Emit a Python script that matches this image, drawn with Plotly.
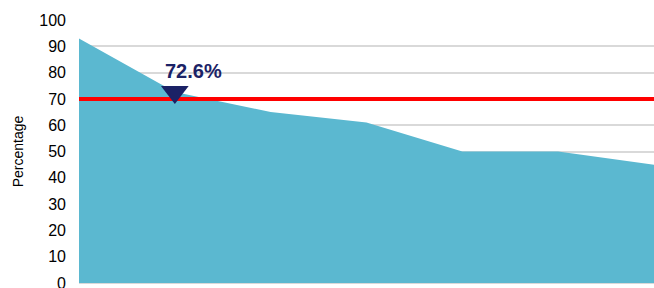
import plotly.graph_objects as go

x_idx = [0, 1, 2, 3, 4, 5, 6]
values = [93, 72.6, 65, 61, 50, 50, 45]
target = 70
marker_idx = 1
marker_label = "72.6%"
y_ticks = [0, 10, 20, 30, 40, 50, 60, 70, 80, 90, 100]

fig = go.Figure()
fig.add_trace(go.Scatter(
    x=x_idx, y=values, mode="lines", fill="tozeroy",
    fillcolor="#5BB8D0", line=dict(width=0, color="#5BB8D0"),
    hoverinfo="skip", showlegend=False))
fig.add_trace(go.Scatter(
    x=[x_idx[0], x_idx[-1]], y=[target, target], mode="lines",
    line=dict(color="#FF0000", width=4), showlegend=False))
fig.add_trace(go.Scatter(
    x=[x_idx[marker_idx]], y=[values[marker_idx]], mode="markers",
    marker=dict(symbol="triangle-down", size=24, color="#1B2266"),
    showlegend=False))
fig.add_annotation(
    x=x_idx[marker_idx], y=values[marker_idx], text=marker_label,
    showarrow=False, yshift=21, xanchor="left", xshift=-12,
    font=dict(family="Liberation Sans, Arial", size=20, color="#1B2266", weight="bold"))

fig.update_layout(
    width=654, height=288,
    margin=dict(l=79, r=0, t=20, b=5),
    paper_bgcolor="white", plot_bgcolor="white",
    font=dict(family="Liberation Sans, Arial", color="#000000"),
    xaxis=dict(range=[0, 6], showticklabels=False, showgrid=False,
               zeroline=False, showline=True, linecolor="#D9D9D9", linewidth=1,
               fixedrange=True, automargin=False),
    yaxis=dict(range=[0, 100], tickvals=y_ticks, showgrid=True,
               gridcolor="#D9D9D9", gridwidth=2, zeroline=False,
               showline=False, tickfont=dict(size=16), automargin=False,
               ticklabelstandoff=12, ticklabeloverflow="allow",
               title=dict(text="Percentage", font=dict(size=14), standoff=12),
               ticks=""),
)
fig.write_html(
    "out.html",
    config={"displayModeBar": False},
    post_script="document.body.style.margin='0';document.body.style.overflow='hidden';",
)
